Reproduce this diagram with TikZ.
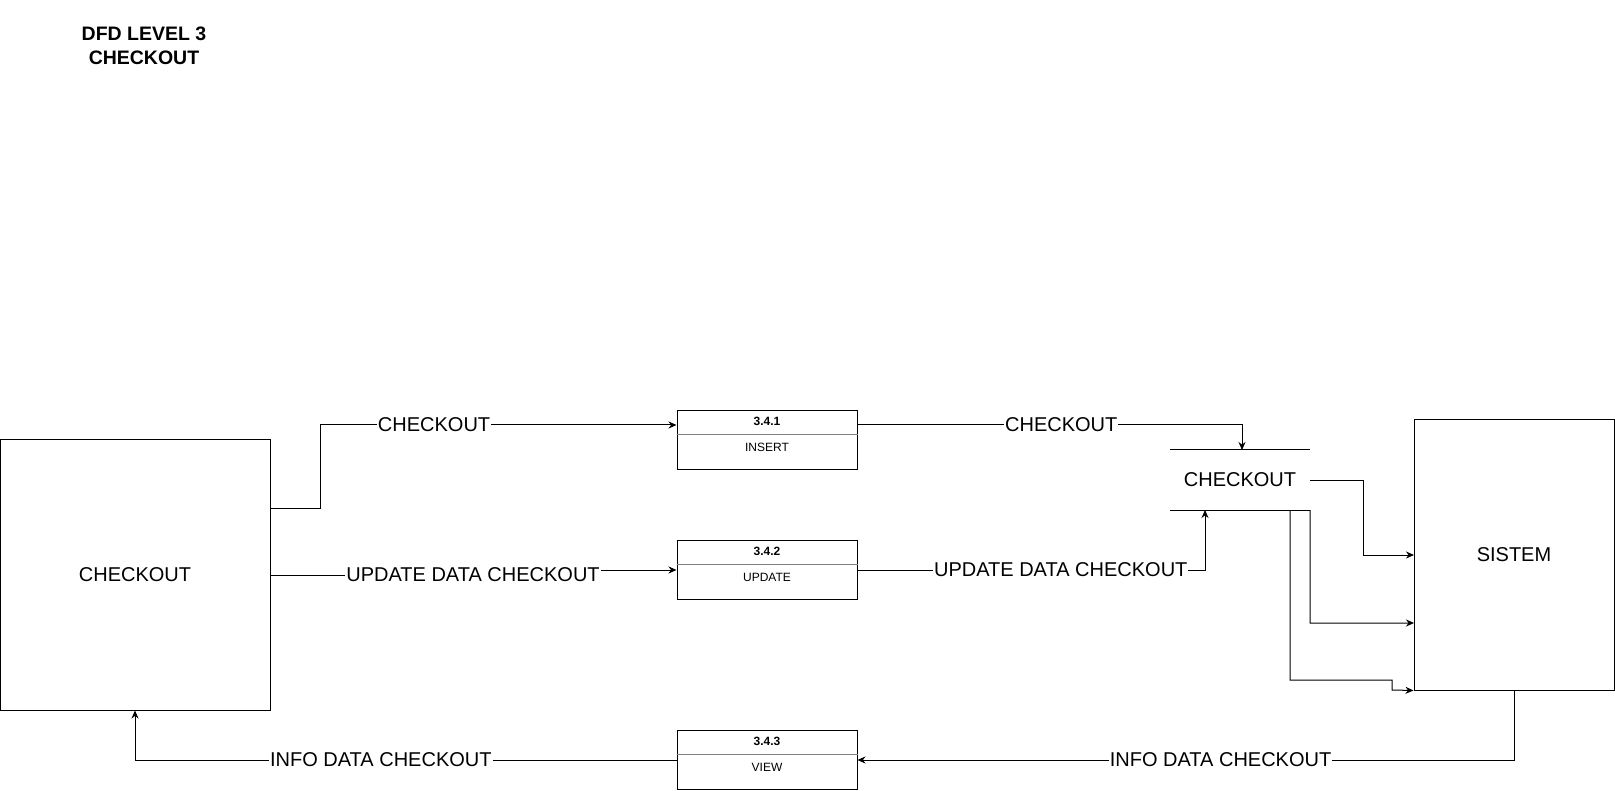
\documentclass[tikz,border=0pt]{standalone}
\usepackage{fontspec}
\setmainfont{Liberation Sans}
\usetikzlibrary{arrows.meta,calc}
\begin{document}
\begin{tikzpicture}[x=1pt,y=-1pt,
  every node/.style={font=\fontsize{20}{24}\selectfont},
  entity/.style={draw,line width=1pt,minimum width=#1,minimum height=270pt,inner sep=0pt},
  procbox/.style={draw,line width=1pt,minimum width=180pt,minimum height=59pt,inner sep=0pt},
  small/.style={font=\fontsize{12}{14}\selectfont,inner sep=0pt},
  smallbold/.style={font=\fontsize{12}{14}\selectfont\bfseries,inner sep=0pt},
  storebox/.style={minimum width=140pt,minimum height=60pt,inner sep=0pt},
  flow/.style={line width=1pt,-{Stealth[length=8pt,width=7pt]}},
  lbl/.style={fill=white,inner sep=1pt}]
\useasboundingbox (0,0) rectangle (1615,791);

\node[align=center,font=\fontsize{19.5}{24}\selectfont\bfseries] (title) at (144,46) {DFD LEVEL 3\\CHECKOUT};

% external entities
\node[entity=270pt] (ext) at (135,575) {CHECKOUT};
\node[entity=200pt] (sys) at (1514,555) {SISTEM};

% processes
\node[procbox] (p1) at (767,440) {};
\draw[gray,line width=0.8pt] ($(p1.west)+(0,-6)$) -- ($(p1.east)+(0,-6)$);
\node[smallbold] (p1n) at (767,421) {3.4.1};
\node[small] (p1t) at (767,447) {INSERT};

\node[procbox] (p2) at (767,570) {};
\draw[gray,line width=0.8pt] ($(p2.west)+(0,-6)$) -- ($(p2.east)+(0,-6)$);
\node[smallbold] (p2n) at (767,551) {3.4.2};
\node[small] (p2t) at (767,577) {UPDATE};

\node[procbox] (p3) at (767,760) {};
\draw[gray,line width=0.8pt] ($(p3.west)+(0,-6)$) -- ($(p3.east)+(0,-6)$);
\node[smallbold] (p3n) at (767,741) {3.4.3};
\node[small] (p3t) at (767,767) {VIEW};

% data store
\node[storebox] (store) at (1240,480) {CHECKOUT};
\draw[line width=1pt] (store.north west) -- (store.north east);
\draw[line width=1pt] (store.south west) -- (store.south east);

% flows
\draw[flow] ($(ext.east)+(0,-67)$) -- (320,508) -- (320,425)
  -- node[lbl,pos=0.32]{CHECKOUT} ($(p1.west)+(0,-15)$);
\draw[flow] (ext.east) -- (473,575) node[lbl]{UPDATE DATA CHECKOUT} -- (473,570) -- (p2.west);
\draw[flow] ($(p1.east)+(0,-15)$) -- node[lbl,pos=0.53]{CHECKOUT} (1242,425) -- (1242,450);
\draw[flow] (p2.east) -- node[lbl,pos=0.585]{UPDATE DATA CHECKOUT} (1205,570) -- (1205,510);
\draw[flow] (store.east) -- (1363,480) -- (1363,555) -- (1414,555);
\draw[flow] (store.south east) -- (1310,623) -- (1414,623);
\draw[flow] (1290,510) -- (1290,680) -- (1392,680) -- (1392,690) -- (sys.south west);
\draw[flow] (sys.south) -- (1514,760) -- node[lbl,pos=0.447]{INFO DATA CHECKOUT} (p3.east);
\draw[flow] (p3.west) -- node[lbl,pos=0.546]{INFO DATA CHECKOUT} (135,760) -- (ext.south);
\end{tikzpicture}
\end{document}
